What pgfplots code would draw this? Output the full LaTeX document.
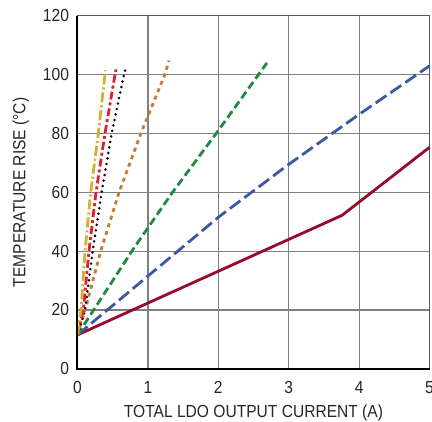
\documentclass[border=0pt]{standalone}
\usepackage{pgfplots}
\pgfplotsset{compat=1.18}
\usepackage{fontspec}
\setmainfont{Liberation Sans}[FakeStretch=0.89]
\definecolor{cDR}{RGB}{150,10,45}
\definecolor{cBL}{RGB}{58,88,166}
\definecolor{cGR}{RGB}{35,135,70}
\definecolor{cOR}{RGB}{196,122,56}
\definecolor{cRD}{RGB}{225,30,50}
\definecolor{cYE}{RGB}{212,175,50}
\begin{document}
\begin{tikzpicture}
\begin{axis}[name=ax, scale only axis, width=352pt, height=352.8pt,
  xmin=0, xmax=5, ymin=0, ymax=120,
  xtick={0,1,2,3,4,5}, ytick={0,20,40,60,80,100,120},
  grid=major, major grid style={black!50, line width=1.2pt},
  major tick length=0pt,
  axis line style={black!65, line width=1.2pt},
  /pgf/number format/assume math mode=true,
  tick label style={font=\fontsize{17.5}{20}\selectfont, text=black!85},
  xticklabel style={yshift=-9pt},
  yticklabel style={xshift=-5pt},
  label style={font=\fontsize{17.5}{20}\selectfont, text=black!85},
  xlabel={TOTAL LDO OUTPUT CURRENT (A)},
  ylabel={TEMPERATURE RISE (°C)},
  xlabel style={yshift=-4pt},
  ylabel style={yshift=7pt},
  clip=false,
]
\addplot[cDR, line width=2.8pt] coordinates {(0,11.5) (3.76,52.2) (5,75.3)};
\addplot[cBL, line width=2.8pt, dash pattern=on 13pt off 5pt] coordinates {(0,11.5) (1,31.5) (2,51.5) (3,69.5) (4,86.5) (5,103)};
\addplot[cGR, line width=2.8pt, dash pattern=on 8pt off 4pt] coordinates {(0,11.5) (0.8,41) (1.35,60) (2.0,81) (2.69,104)};
\addplot[cOR, line width=2.8pt, dash pattern=on 4pt off 4pt] coordinates {(0,11.5) (0.11,20) (0.33,40) (0.59,60) (0.9,80) (1.24,100) (1.30,104.8)};
\addplot[black, line width=2.8pt, line cap=round, dash pattern=on 0pt off 5.6pt] coordinates {(0,11.5) (0.107,20) (0.216,40) (0.343,60) (0.485,80) (0.66,100) (0.685,102.2)};
\addplot[cRD, line width=2.8pt, dash pattern=on 8pt off 3pt on 3pt off 3pt] coordinates {(0,11.5) (0.083,20) (0.163,40) (0.263,60) (0.39,80) (0.533,100) (0.547,101.8)};
\addplot[cYE, line width=2.8pt, dash pattern=on 10pt off 3pt on 2pt off 3pt] coordinates {(0,11.5) (0.05,20) (0.107,40) (0.187,60) (0.296,80) (0.39,100) (0.395,101.5)};
\draw[black, line width=2pt] (rel axis cs:0,1) -- (rel axis cs:0,0) -- (rel axis cs:1,0);
\end{axis}
\pgfresetboundingbox
\useasboundingbox ([shift={(-77.5pt,-52.3pt)}]ax.south west) rectangle ([shift={(2.5pt,15.9pt)}]ax.north east);
\end{tikzpicture}
\end{document}
